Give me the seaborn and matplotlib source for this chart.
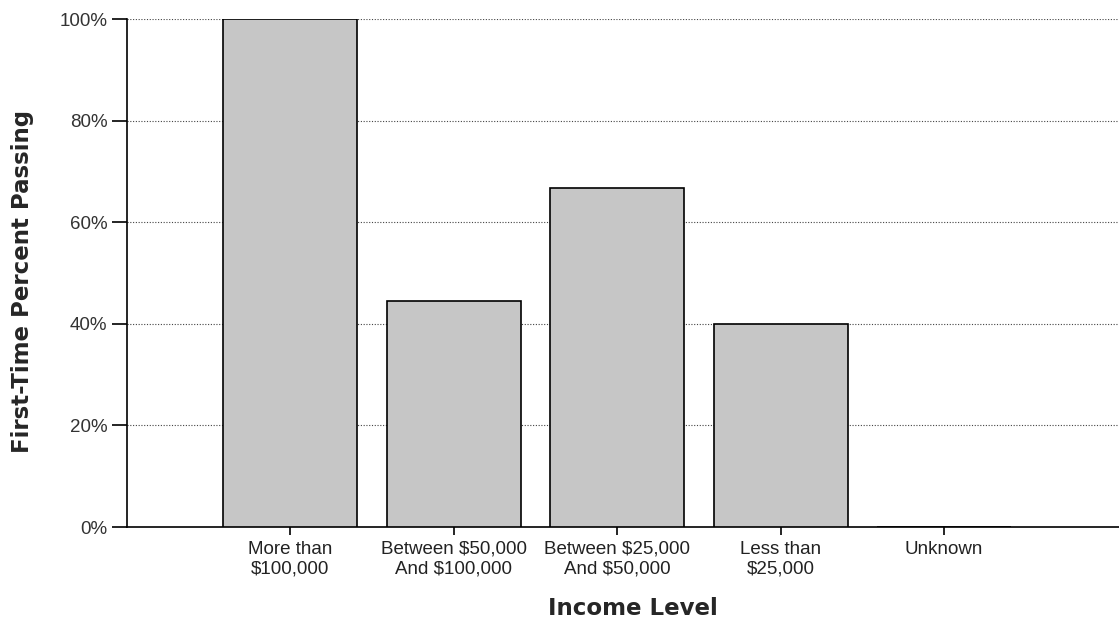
import pandas as pd
import numpy as np
import matplotlib.pyplot as plt
import seaborn as sns
from matplotlib.ticker import PercentFormatter

# 数据
income_levels = ['More than\n$100,000', 'Between $50,000\nAnd $100,000',
                 'Between $25,000\nAnd $50,000', 'Less than\n$25,000', 'Unknown']
pass_rates = [100.0, 44.4, 66.7, 40.0, 0.0]
y_ticks = [0, 20, 40, 60, 80, 100]

df = pd.DataFrame({'Income Level': income_levels, 'Rate': pass_rates})

sns.set_style('white')
plt.rcParams['font.family'] = ['Liberation Sans', 'DejaVu Sans']

fig = plt.figure(figsize=(11.19, 6.27), dpi=100)
ax = fig.add_axes([127 / 1119, 100 / 627, 1 - 127 / 1119, 508 / 627])

sns.barplot(data=df, x='Income Level', y='Rate', order=income_levels,
            color='#c6c6c6', saturation=1, edgecolor='black', linewidth=1.2,
            width=0.82, ax=ax, zorder=3)

# 网格线
for t in y_ticks[1:]:
    ax.axhline(t, color='#444444', linestyle=(0, (1, 1.5)), linewidth=0.8, zorder=1)

ax.set_ylim(0, 100)
ax.set_xlim(-1.0, 5.07)
ax.set_yticks(y_ticks)
ax.yaxis.set_major_formatter(PercentFormatter(decimals=0))

for s in ['top', 'right']:
    ax.spines[s].set_visible(False)
for s in ['left', 'bottom']:
    ax.spines[s].set_color('black')
    ax.spines[s].set_linewidth(1.2)

ax.tick_params(axis='y', direction='out', length=11, width=1.2, color='black',
               labelsize=13.5, labelcolor='#333333', pad=3, left=True)
ax.tick_params(axis='x', direction='out', length=6, width=1.2, color='black',
               labelsize=13.5, labelcolor='#222222', pad=4, bottom=True)
for lbl in ax.get_xticklabels():
    lbl.set_linespacing(1.2)

ax.set_xlabel('Income Level', fontsize=16.5, fontweight='bold', family='DejaVu Sans')
ax.set_ylabel('First-Time Percent Passing', fontsize=16.5, fontweight='bold', family='DejaVu Sans')
ax.xaxis.set_label_coords(0.51, -0.138)
ax.yaxis.set_label_coords(-0.094, 0.484)

fig.savefig('out.png', dpi=100)
